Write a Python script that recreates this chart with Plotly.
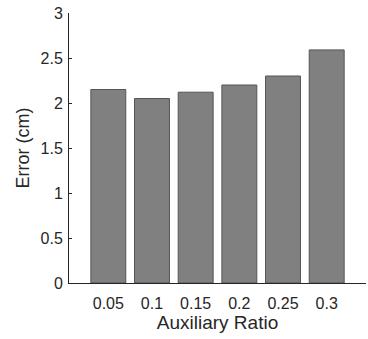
import plotly.graph_objects as go

categories = ["0.05", "0.1", "0.15", "0.2", "0.25", "0.3"]
errors = [2.15, 2.05, 2.12, 2.20, 2.30, 2.59]
y_ticks = [0, 0.5, 1, 1.5, 2, 2.5, 3]
y_tick_labels = ["0", "0.5", "1", "1.5", "2", "2.5", "3"]

fig = go.Figure(go.Bar(
    x=list(range(len(categories))), y=errors,
    marker=dict(color="#808080", line=dict(color="#555555", width=1)),
    width=0.8,
))

fig.update_layout(
    width=368, height=339,
    margin=dict(l=69, r=2, t=13, b=56),
    plot_bgcolor="white", paper_bgcolor="white",
    font=dict(family="Liberation Sans, Arial", size=16, color="#262626"),
    showlegend=False,
    xaxis=dict(
        range=[-0.9, 5.9], tickmode="array",
        tickvals=list(range(len(categories))), ticktext=categories,
        showline=True, linecolor="#262626", linewidth=1,
        ticks="", showgrid=False, zeroline=False, automargin=False,
        ticklabelstandoff=6, ticklabeloverflow="allow",
        title=dict(text="Auxiliary Ratio", font=dict(size=19), standoff=3),
    ),
    yaxis=dict(
        range=[0, 3], tickmode="array", tickvals=y_ticks, ticktext=y_tick_labels,
        showline=True, linecolor="#262626", linewidth=1,
        ticks="inside", ticklen=3, tickcolor="#262626",
        showgrid=False, zeroline=False, automargin=False,
        ticklabelstandoff=2, ticklabeloverflow="allow",
        title=dict(text="Error (cm)", font=dict(size=18), standoff=6),
    ),
)

# remove the browser's default 8px body margin so the figure fills the window
fig.write_html(
    "out.html",
    config={"displayModeBar": False},
    post_script="document.body.style.margin='0';",
)
